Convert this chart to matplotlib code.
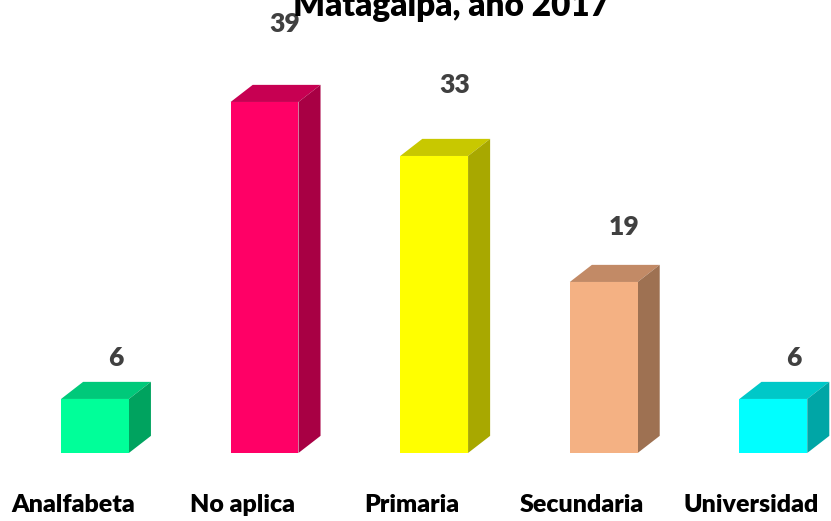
import matplotlib.pyplot as plt
from matplotlib.patches import Polygon

# Datos
categorias = ['Analfabeta', 'No aplica', 'Primaria', 'Secundaria', 'Universidad']
valores = [6, 39, 33, 19, 6]
color_frente = ['#00FF99', '#FF0066', '#FFFF00', '#F4B183', '#00FFFF']
color_tapa = ['#00C97A', '#C70052', '#C8C800', '#C28A66', '#00C8C8']
color_lado = ['#00A35F', '#A80044', '#A8A800', '#9E7152', '#00A6A6']

plt.rcParams['font.family'] = ['Lato', 'DejaVu Sans']

fig = plt.figure(figsize=(8.31, 5.21), dpi=100)
ax = fig.add_axes([0, 0, 1, 1])
ax.set_xlim(-0.56, 4.34)
ax.set_ylim(-7.56, 50.33)
ax.axis('off')

ancho = 0.40
dx, dy = 0.13, 1.9  # profundidad del efecto 3D

x = range(len(categorias))
ax.bar(x, valores, ancho, color=color_frente, zorder=3)

for i, v in enumerate(valores):
    x0, x1 = i - ancho / 2, i + ancho / 2
    tapa = Polygon([(x0, v), (x1, v), (x1 + dx, v + dy), (x0 + dx, v + dy)],
                   closed=True, color=color_tapa[i], lw=0, zorder=2)
    lado = Polygon([(x1, 0), (x1 + dx, dy), (x1 + dx, v + dy), (x1, v)],
                   closed=True, color=color_lado[i], lw=0, zorder=2)
    ax.add_patch(tapa)
    ax.add_patch(lado)
    # etiqueta de valor encima de la barra
    ax.text(i + 0.12, 1.127 * v + 3.74, str(v), ha='center', va='center',
            fontsize=19, fontweight='heavy', color='#404040')
    ax.text(i - 0.13, -5.75, categorias[i], ha='center', va='center',
            fontsize=18, fontweight='heavy', color='black')

ax.text(2.1, 49.7, 'Matagalpa, año 2017', ha='center', va='center',
        fontsize=24, fontweight='heavy', color='black')

fig.savefig('out.png', dpi=100)
